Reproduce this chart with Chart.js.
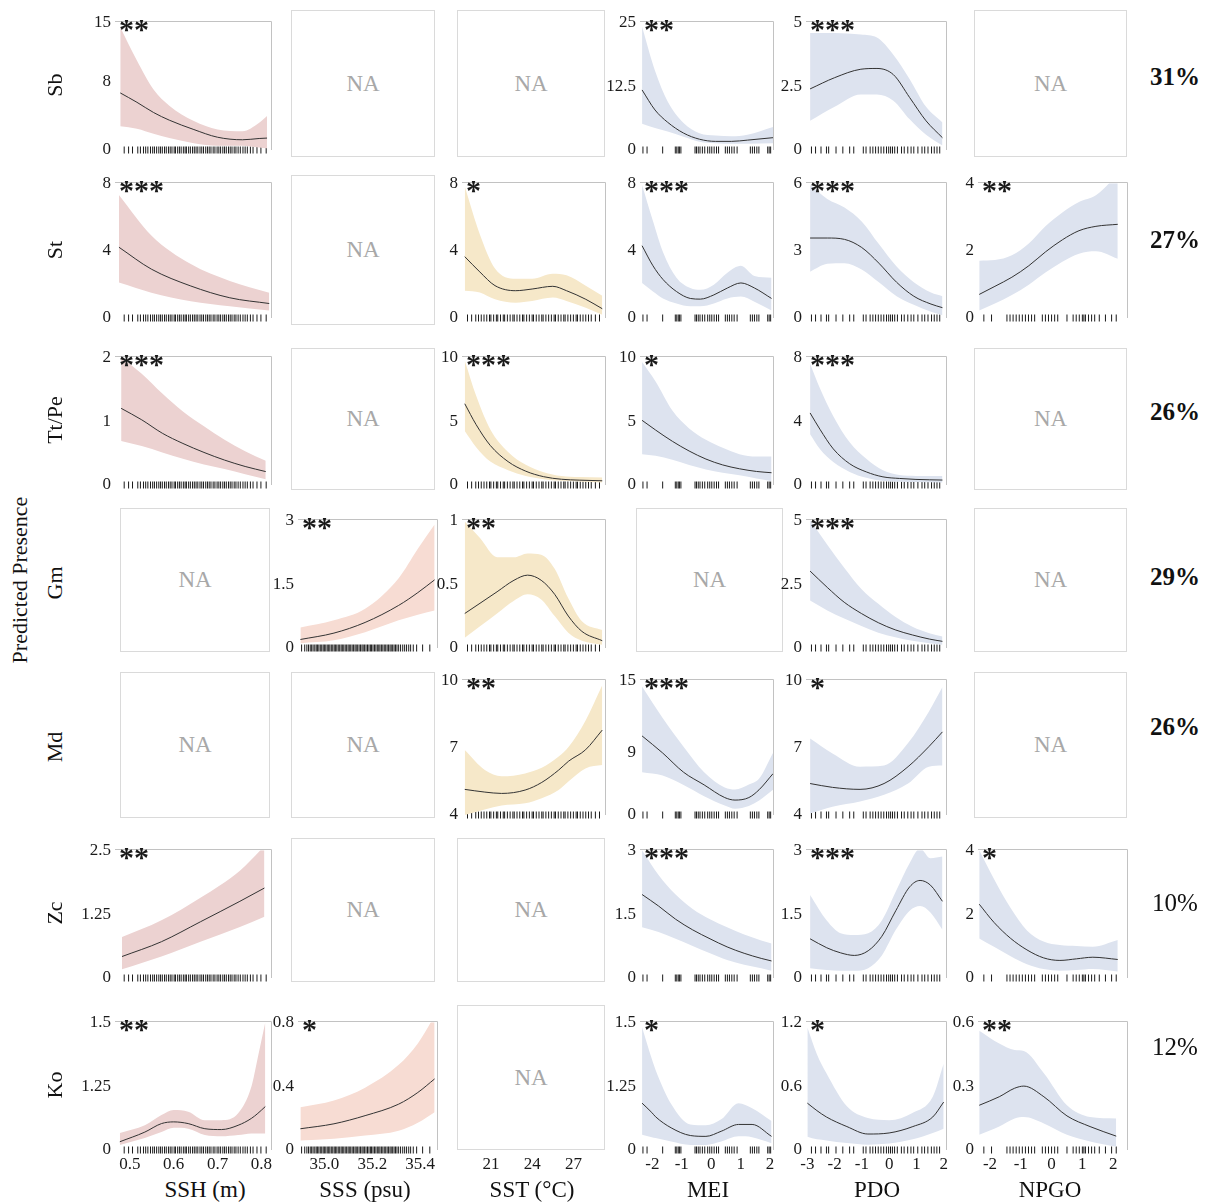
<!DOCTYPE html>
<html>
<head>
<meta charset="utf-8">
<script src="https://cdn.jsdelivr.net/npm/chart.js@4.4.0/dist/chart.umd.min.js"></script>
<style>
  body { margin: 0; background: #fff; }
  #fig { position: relative; width: 1213px; height: 1203px; font-family: 'Liberation Serif', 'Times New Roman', serif; color: #111; overflow: hidden; }
  .abs { position: absolute; }
  .na { position: absolute; box-sizing: border-box; border: 1.5px solid #dadada; display: flex; align-items: center; justify-content: center; color: #a8a8a8; font-size: 23px; }
  .stars { position: absolute; font-size: 30px; line-height: 30px; font-weight: bold; white-space: nowrap; color: #1a1a1a; }
  .rot { position: absolute; transform: translate(-50%, -50%) rotate(-90deg); white-space: nowrap; font-size: 22px; }
  .pct { position: absolute; transform: translate(-50%, -50%); font-size: 25px; }
  .xt { position: absolute; transform: translateX(-50%); font-size: 23px; white-space: nowrap; }
</style>
</head>
<body>
<div id="fig"></div>
<script>
// ===== Datos =====
const species = ['Sb', 'St', 'Tt/Pe', 'Gm', 'Md', 'Zc', 'Ko'];
const devExplained = ['31%', '27%', '26%', '29%', '26%', '10%', '12%'];
const pctBold = [true, true, true, true, true, false, false];
const covariates = ['SSH (m)', 'SSS (psu)', 'SST (°C)', 'MEI', 'PDO', 'NPGO'];

const xRange = [[0.466, 0.822], [34.89, 35.47], [18.9, 29.3], [-2.42, 2.1], [-3.05, 2.08], [-2.39, 2.45]];
const xTicks = [[0.5, 0.6, 0.7, 0.8], [35.0, 35.2, 35.4], [21, 24, 27], [-2, -1, 0, 1, 2], [-3, -2, -1, 0, 1, 2], [-2, -1, 0, 1, 2]];
const xTickLabels = [['0.5', '0.6', '0.7', '0.8'], ['35.0', '35.2', '35.4'], ['21', '24', '27'],
  ['-2', '-1', '0', '1', '2'], ['-3', '-2', '-1', '0', '1', '2'], ['-2', '-1', '0', '1', '2']];

// rug (observaciones) por covariable
const rugSSH = [0.487, 0.497, 0.506, 0.518, 0.524, 0.531, 0.536, 0.541, 0.547, 0.552, 0.556, 0.561, 0.566, 0.57, 0.574,
  0.579, 0.583, 0.588, 0.592, 0.596, 0.601, 0.604, 0.609, 0.613, 0.617, 0.622, 0.626, 0.629, 0.634, 0.638, 0.643, 0.647,
  0.651, 0.655, 0.66, 0.664, 0.668, 0.673, 0.677, 0.681, 0.685, 0.69, 0.694, 0.699, 0.703, 0.707, 0.712, 0.716, 0.72,
  0.725, 0.729, 0.733, 0.738, 0.742, 0.747, 0.752, 0.758, 0.763, 0.768, 0.775, 0.781, 0.79, 0.799, 0.811];
const rugSSS = [34.905, 34.918, 34.927, 34.934, 34.941, 34.947, 34.953, 34.96, 34.966, 34.971, 34.977, 34.983, 34.989,
  34.995, 35.0, 35.006, 35.012, 35.018, 35.023, 35.029, 35.035, 35.041, 35.046, 35.052, 35.058, 35.064, 35.07, 35.075,
  35.081, 35.087, 35.093, 35.099, 35.104, 35.11, 35.116, 35.122, 35.128, 35.133, 35.139, 35.145, 35.151, 35.157, 35.162,
  35.168, 35.174, 35.18, 35.186, 35.192, 35.197, 35.203, 35.209, 35.215, 35.221, 35.227, 35.232, 35.238, 35.244, 35.25,
  35.256, 35.262, 35.268, 35.274, 35.279, 35.285, 35.291, 35.297, 35.303, 35.31, 35.318, 35.327, 35.335, 35.343, 35.352,
  35.36, 35.371, 35.385, 35.41, 35.44];
const rugSST = [19.3, 19.6, 19.9, 20.1, 20.3, 20.5, 20.7, 20.9, 21.0, 21.2, 21.4, 21.5, 21.7, 21.9, 22.0, 22.2, 22.4, 22.6,
  22.7, 22.9, 23.1, 23.3, 23.4, 23.6, 23.8, 24.0, 24.1, 24.3, 24.5, 24.7, 24.8, 25.0, 25.2, 25.4, 25.6, 25.7, 25.9, 26.1,
  26.3, 26.4, 26.6, 26.8, 27.0, 27.2, 27.3, 27.5, 27.7, 27.9, 28.1, 28.3, 28.6, 28.9];
const rugMEI = [-2.32, -2.18, -1.65, -1.22, -1.17, -1.12, -1.08, -1.03, -0.55, -0.5, -0.44, -0.38, -0.3, -0.22, -0.12,
  -0.05, 0.02, 0.1, 0.18, 0.25, 0.48, 0.55, 0.62, 0.7, 0.78, 0.88, 1.33, 1.4, 1.47, 1.55, 1.62, 1.92, 1.97, 2.02];
const rugPDO = [-2.85, -2.7, -2.5, -2.3, -2.22, -1.95, -1.7, -1.45, -1.3, -0.95, -0.85, -0.7, -0.6, -0.5, -0.4, -0.3,
  -0.2, -0.1, -0.02, 0.05, 0.12, 0.2, 0.3, 0.45, 0.55, 0.68, 0.8, 0.9, 1.05, 1.2, 1.3, 1.42, 1.55, 1.65, 1.75, 1.85];
const rugNPGO = [-2.2, -1.95, -1.45, -1.35, -1.25, -1.15, -1.05, -0.95, -0.85, -0.75, -0.65, -0.55, -0.3, -0.2, -0.1,
  0.0, 0.1, 0.2, 0.5, 0.7, 0.8, 0.9, 1.0, 1.05, 1.1, 1.2, 1.3, 1.4, 1.55, 1.75, 1.95, 2.1];
const rugs = [rugSSH, rugSSS, rugSST, rugMEI, rugPDO, rugNPGO];

// curvas: [x, ajuste, inferior, superior]
const sbSsh = [[0.478, 6.7, 2.8, 14.4], [0.516, 5.6, 2.5, 10.5], [0.554, 4.4, 1.9, 7.1], [0.59, 3.5, 1.4, 5.2],
  [0.646, 2.4, 0.8, 3.4], [0.70, 1.5, 0.5, 2.4], [0.757, 1.2, 0.5, 2.2], [0.795, 1.35, 0.3, 3.2], [0.813, 1.4, 0.2, 4.0]];
const sbMei = [[-2.35, 11.75, 5.12, 24.1], [-1.91, 7.83, 4.3, 15.5], [-1.48, 5.42, 3.61, 9.5], [-0.94, 3.31, 2.6, 5.3],
  [-0.4, 2.11, 1.6, 3.3], [0.15, 1.69, 1.3, 2.85], [0.69, 1.69, 1.2, 2.71], [1.23, 1.93, 1.2, 3.0], [2.1, 2.41, 1.3, 4.52]];
const sbPdo = [[-2.9, 2.39, 1.14, 4.58], [-2.0, 2.83, 1.69, 4.58], [-1.04, 3.16, 2.17, 4.52], [-0.45, 3.19, 2.17, 4.4],
  [0.15, 2.95, 1.93, 3.73], [0.75, 2.05, 1.2, 2.77], [1.35, 1.14, 0.6, 1.69], [1.95, 0.48, 0.18, 1.08]];

const stSsh = [[0.475, 4.2, 2.1, 7.3], [0.549, 2.9, 1.5, 4.9], [0.639, 1.9, 1.0, 3.2], [0.728, 1.2, 0.7, 2.2], [0.818, 0.86, 0.45, 1.5]];
const stSst = [[19.1, 3.64, 1.62, 7.8], [20.2, 2.73, 1.52, 4.96], [21.3, 1.92, 1.11, 2.94], [22.8, 1.62, 0.91, 2.33],
  [24.0, 1.72, 1.01, 2.33], [25.5, 1.88, 1.21, 2.63], [26.5, 1.62, 1.01, 2.53], [27.9, 1.11, 0.61, 1.92], [29.1, 0.55, 0.2, 1.32]];
const stMei = [[-2.35, 4.29, 2.08, 7.9], [-1.98, 3.1, 1.57, 5.76], [-1.64, 2.29, 1.16, 3.92], [-1.18, 1.57, 0.86, 2.39],
  [-0.71, 1.16, 0.69, 1.78], [-0.37, 1.12, 0.69, 1.67], [0.09, 1.37, 0.86, 1.98], [0.55, 1.78, 1.16, 2.69],
  [1.01, 2.08, 1.27, 3.1], [1.47, 1.78, 0.96, 2.49], [2.05, 1.16, 0.45, 2.39]];
const stPdo = [[-2.9, 3.56, 2.06, 5.92], [-2.27, 3.56, 2.41, 5.3], [-1.64, 3.5, 2.44, 4.92], [-1.01, 3.14, 2.16, 4.3],
  [-0.38, 2.44, 1.59, 3.29], [0.27, 1.59, 0.97, 2.29], [0.9, 0.97, 0.59, 1.59], [1.53, 0.62, 0.28, 1.13], [1.95, 0.46, 0.12, 0.97]];
const stNpgo = [[-2.35, 0.7, 0.22, 1.7], [-1.84, 0.94, 0.43, 1.72], [-1.29, 1.21, 0.68, 1.86], [-0.74, 1.55, 0.99, 2.21],
  [-0.2, 1.96, 1.35, 2.72], [0.35, 2.32, 1.67, 3.13], [0.89, 2.59, 1.91, 3.44], [1.44, 2.72, 1.98, 3.64], [2.15, 2.78, 1.76, 4.26]];

const ttSsh = [[0.48, 1.2, 0.69, 2.0], [0.527, 1.02, 0.61, 1.74], [0.574, 0.81, 0.51, 1.43], [0.621, 0.65, 0.41, 1.15],
  [0.669, 0.51, 0.32, 0.92], [0.716, 0.39, 0.25, 0.71], [0.763, 0.29, 0.17, 0.53], [0.81, 0.21, 0.09, 0.38]];
const ttSst = [[19.1, 6.36, 4.22, 9.75], [19.93, 4.72, 2.96, 6.98], [20.96, 3.09, 1.83, 4.35], [22.25, 1.83, 1.16, 2.59],
  [23.54, 1.08, 0.7, 1.58], [24.84, 0.65, 0.45, 1.0], [26.13, 0.45, 0.33, 0.7], [27.42, 0.38, 0.28, 0.62], [29.1, 0.33, 0.2, 0.58]];
const ttMei = [[-2.35, 5.06, 2.41, 9.62], [-1.89, 4.3, 2.28, 8.1], [-1.32, 3.42, 1.97, 5.82], [-0.75, 2.66, 1.57, 4.43],
  [-0.18, 2.03, 1.22, 3.54], [0.39, 1.57, 0.96, 2.91], [0.96, 1.27, 0.76, 2.41], [1.54, 1.06, 0.51, 2.23], [2.05, 0.96, 0.3, 2.23]];
const ttPdo = [[-2.9, 4.51, 3.18, 7.59], [-2.54, 3.49, 2.26, 6.05], [-2.05, 2.26, 1.44, 4.31], [-1.45, 1.33, 0.82, 2.67],
  [-0.84, 0.82, 0.45, 1.64], [-0.23, 0.51, 0.25, 0.92], [0.37, 0.41, 0.2, 0.62], [0.98, 0.35, 0.18, 0.57], [1.95, 0.31, 0.16, 0.57]];

const gmSss = [[34.9, 0.2, 0.11, 0.48], [35.04, 0.35, 0.18, 0.65], [35.17, 0.6, 0.37, 0.92], [35.31, 1.0, 0.65, 1.64],
  [35.39, 1.3, 0.78, 2.33], [35.46, 1.6, 0.88, 2.9]];
const gmSst = [[19.1, 0.27, 0.08, 0.99], [20.21, 0.35, 0.17, 0.86], [21.45, 0.44, 0.27, 0.71], [22.68, 0.53, 0.37, 0.71],
  [23.67, 0.57, 0.42, 0.74], [24.66, 0.53, 0.38, 0.73], [25.64, 0.42, 0.25, 0.62], [26.63, 0.25, 0.12, 0.39],
  [27.62, 0.13, 0.057, 0.21], [29.1, 0.057, 0.026, 0.14]];
const gmPdo = [[-2.9, 3.01, 1.86, 5.0], [-2.27, 2.37, 1.47, 4.04], [-1.65, 1.79, 1.15, 3.14], [-1.02, 1.35, 0.86, 2.31],
  [-0.4, 0.99, 0.6, 1.73], [0.22, 0.71, 0.42, 1.22], [0.85, 0.51, 0.28, 0.83], [1.47, 0.35, 0.19, 0.58], [1.95, 0.26, 0.13, 0.45]];

const mdSst = [[19.1, 5.14, 4.0, 6.89], [20.56, 5.02, 4.25, 6.0], [21.78, 4.96, 4.42, 5.72], [23.49, 5.11, 4.52, 5.85],
  [24.7, 5.45, 4.75, 6.1], [25.93, 6.0, 5.11, 6.6], [26.66, 6.4, 5.5, 7.04], [27.88, 6.9, 6.07, 8.2], [29.1, 7.78, 6.22, 9.78]];
const mdMei = [[-2.35, 8.8, 4.76, 14.3], [-1.65, 6.9, 4.4, 10.8], [-0.94, 4.76, 3.35, 7.6], [-0.24, 3.35, 2.1, 4.76],
  [0.46, 1.94, 1.06, 3.07], [0.81, 1.66, 0.7, 2.85], [1.28, 1.94, 1.0, 3.4], [1.63, 2.82, 1.6, 4.06], [2.1, 4.6, 2.8, 6.9]];
const mdPdo = [[-2.9, 5.4, 4.07, 7.4], [-2.08, 5.23, 4.37, 6.74], [-1.07, 5.14, 4.6, 6.15], [-0.19, 5.4, 4.9, 6.2],
  [0.69, 6.15, 5.4, 7.2], [1.45, 7.04, 6.15, 8.6], [1.95, 7.7, 6.2, 9.7]];

const zcSsh = [[0.482, 0.42, 0.17, 0.8], [0.572, 0.71, 0.42, 1.13], [0.661, 1.1, 0.71, 1.57], [0.751, 1.5, 1.0, 2.1], [0.807, 1.76, 1.2, 2.58]];
const zcMei = [[-2.35, 1.96, 1.19, 3.0], [-1.79, 1.69, 1.08, 2.42], [-1.21, 1.38, 0.92, 1.96], [-0.63, 1.13, 0.75, 1.62],
  [-0.04, 0.92, 0.58, 1.38], [0.54, 0.73, 0.42, 1.19], [1.12, 0.58, 0.31, 1.02], [1.7, 0.46, 0.23, 0.88], [2.05, 0.4, 0.17, 0.81]];
const zcPdo = [[-2.9, 0.92, 0.23, 1.95], [-2.29, 0.71, 0.19, 1.35], [-1.78, 0.59, 0.17, 1.05], [-1.28, 0.53, 0.17, 1.01],
  [-0.77, 0.64, 0.23, 1.05], [-0.27, 0.98, 0.53, 1.35], [0.24, 1.58, 1.13, 2.03], [0.75, 2.14, 1.58, 2.7],
  [1.13, 2.29, 1.69, 3.04], [1.51, 2.18, 1.54, 2.81], [1.95, 1.8, 1.13, 2.85]];
const zcNpgo = [[-2.35, 2.31, 1.24, 4.0], [-1.87, 1.74, 0.98, 3.1], [-1.33, 1.24, 0.68, 2.19], [-0.8, 0.88, 0.43, 1.49],
  [-0.26, 0.63, 0.28, 1.14], [0.27, 0.55, 0.23, 1.03], [0.81, 0.6, 0.25, 1.0], [1.34, 0.65, 0.28, 0.98], [2.15, 0.58, 0.2, 1.19]];

const koSsh = [[0.477, 0.097, 0.06, 0.2], [0.534, 0.21, 0.14, 0.29], [0.572, 0.31, 0.21, 0.41], [0.6, 0.33, 0.26, 0.47],
  [0.633, 0.31, 0.25, 0.45], [0.671, 0.25, 0.175, 0.35], [0.709, 0.24, 0.16, 0.35], [0.747, 0.29, 0.175, 0.43],
  [0.777, 0.37, 0.195, 0.74], [0.792, 0.43, 0.195, 1.09], [0.809, 0.51, 0.195, 1.5]];
const koSss = [[34.9, 0.133, 0.06, 0.267], [35.04, 0.164, 0.07, 0.31], [35.17, 0.215, 0.09, 0.39], [35.31, 0.287, 0.12, 0.533],
  [35.39, 0.36, 0.17, 0.667], [35.46, 0.445, 0.236, 0.84]];
const koMei = [[-2.35, 0.55, 0.18, 1.44], [-2.02, 0.44, 0.15, 1.07], [-1.89, 0.39, 0.14, 0.94], [-1.36, 0.26, 0.1, 0.54],
  [-0.71, 0.17, 0.06, 0.3], [-0.18, 0.16, 0.06, 0.29], [0.34, 0.22, 0.1, 0.36], [0.93, 0.3, 0.16, 0.55],
  [1.39, 0.3, 0.15, 0.49], [2.05, 0.16, 0.08, 0.34]];
const koPdo = [[-3.0, 0.44, 0.125, 1.15], [-2.65, 0.37, 0.1, 0.9], [-2.3, 0.31, 0.09, 0.72], [-1.55, 0.22, 0.065, 0.41],
  [-0.78, 0.15, 0.05, 0.3], [0.0, 0.16, 0.06, 0.28], [0.87, 0.22, 0.1, 0.35], [1.6, 0.31, 0.16, 0.5], [2.0, 0.45, 0.2, 0.81]];
const koNpgo = [[-2.35, 0.21, 0.072, 0.56], [-1.7, 0.25, 0.11, 0.5], [-1.2, 0.29, 0.148, 0.47], [-0.9, 0.3, 0.155, 0.465],
  [-0.25, 0.25, 0.125, 0.36], [0.5, 0.16, 0.072, 0.21], [1.25, 0.11, 0.04, 0.155], [2.1, 0.065, 0.015, 0.148]];

// paneles: [fila, columna, curva, posiciones eje y, etiquetas eje y (null = valor), significancia]
const panels = [
  [0, 0, sbSsh, [0, 8, 15], null, '**'],
  [0, 3, sbMei, [0, 12.5, 25], null, '**'],
  [0, 4, sbPdo, [0, 2.5, 5], null, '***'],
  [1, 0, stSsh, [0, 4, 8], null, '***'],
  [1, 2, stSst, [0, 4, 8], null, '*'],
  [1, 3, stMei, [0, 4, 8], null, '***'],
  [1, 4, stPdo, [0, 3, 6], null, '***'],
  [1, 5, stNpgo, [0, 2, 4], null, '**'],
  [2, 0, ttSsh, [0, 1, 2], null, '***'],
  [2, 2, ttSst, [0, 5, 10], null, '***'],
  [2, 3, ttMei, [0, 5, 10], null, '*'],
  [2, 4, ttPdo, [0, 4, 8], null, '***'],
  [3, 1, gmSss, [0, 1.5, 3], null, '**'],
  [3, 2, gmSst, [0, 0.5, 1], null, '**'],
  [3, 4, gmPdo, [0, 2.5, 5], null, '***'],
  [4, 2, mdSst, [4, 7, 10], null, '**'],
  [4, 3, mdMei, [0, 6.9, 15], ['0', '9', '15'], '***'],
  [4, 4, mdPdo, [4, 7, 10], null, '*'],
  [5, 0, zcSsh, [0, 1.25, 2.5], null, '**'],
  [5, 3, zcMei, [0, 1.5, 3], null, '***'],
  [5, 4, zcPdo, [0, 1.5, 3], null, '***'],
  [5, 5, zcNpgo, [0, 2, 4], null, '*'],
  [6, 0, koSsh, [0, 0.75, 1.5], ['0', '1.25', '1.5'], '**'],
  [6, 1, koSss, [0, 0.4, 0.8], null, '*'],
  [6, 3, koMei, [0, 0.75, 1.5], ['0', '1.25', '1.5'], '*'],
  [6, 4, koPdo, [0, 0.6, 1.2], null, '*'],
  [6, 5, koNpgo, [0, 0.3, 0.6], null, '**']
];
const naCells = [[0, 1], [0, 2], [0, 5], [1, 1], [2, 1], [2, 5], [3, 0], [3, 3], [3, 5], [4, 0], [4, 1], [4, 5], [5, 1], [5, 2], [6, 2]];

// ===== Maquetación =====
const colPlot = [[115, 271], [298, 437], [462, 605], [640, 773], [806, 946], [978, 1127]];
const rowPlot = [[20, 150], [181, 318], [355, 485], [518, 648], [678, 815], [848, 978], [1020, 1150]];
const naCol = [[120, 270], [291, 435], [457, 605], [636, 783], [806, 946], [974, 1127]];
const naRow = [[10, 157], [175, 325], [348, 490], [508, 652], [672, 818], [838, 982], [1005, 1150]];
const bandColors = ['#ecd2d1', '#f7dcd3', '#f6e8c9', '#dde3ef', '#dde3ef', '#dde3ef'];
const pctY = [77, 240, 412, 577, 727, 903, 1047];
const titleX = [205, 365, 532, 708, 877, 1050];

const fig = document.getElementById('fig');
Chart.defaults.font.family = "'Liberation Serif', 'Times New Roman', serif";
Chart.defaults.color = '#1a1a1a';

const framePlugin = {
  id: 'frame',
  afterDraw(chart, args, opts) {
    if (!opts.show) return;
    const { ctx, chartArea: a } = chart;
    ctx.save();
    ctx.strokeStyle = '#c2c2c2';
    ctx.lineWidth = 1;
    ctx.beginPath();
    ctx.moveTo(a.left, Math.round(a.top) - 0.5);
    ctx.lineTo(Math.round(a.right) + 0.5, Math.round(a.top) - 0.5);
    ctx.lineTo(Math.round(a.right) + 0.5, a.bottom);
    ctx.stroke();
    ctx.restore();
  }
};

function addDiv(cls, text, style) {
  const d = document.createElement('div');
  d.className = cls;
  d.textContent = text;
  Object.assign(d.style, style);
  fig.appendChild(d);
  return d;
}

function makePanel(r, c, rows, yTicks, yLabels, stars) {
  const [pl, pr] = colPlot[c];
  const [pt, pb] = rowPlot[r];
  const last = r === species.length - 1;
  const padL = 38, padT = 12, padR = 6, padB = last ? 26 : 16;

  const canvas = document.createElement('canvas');
  canvas.width = pr - pl + padL + padR;
  canvas.height = pb - pt + padT + padB;
  canvas.className = 'abs';
  canvas.style.left = (pl - padL) + 'px';
  canvas.style.top = (pt - padT) + 'px';
  fig.appendChild(canvas);

  // orden: Chart.js pinta del último al primero, así la curva queda encima de la banda
  const datasets = [];
  if (rows) {
    const curve = { pointRadius: 0, cubicInterpolationMode: 'monotone', clip: false };
    datasets.push({ ...curve, data: rows.map(d => ({ x: d[0], y: d[1] })), borderColor: '#333', borderWidth: 1, fill: false });
    datasets.push({ ...curve, data: rows.map(d => ({ x: d[0], y: d[2] })), borderWidth: 0, fill: false });
    datasets.push({ ...curve, data: rows.map(d => ({ x: d[0], y: d[3] })), borderWidth: 0, backgroundColor: bandColors[c], fill: '-1' });
    datasets.push({
      type: 'scatter', data: rugs[c].map(v => ({ x: v, y: yTicks[0] })),
      pointStyle: 'line', pointRotation: 90, pointRadius: 3.5,
      pointBorderColor: '#1a1a1a', pointBorderWidth: 1, clip: false
    });
  }
  const yMin = yTicks.length ? yTicks[0] : 0;
  const yMax = yTicks.length ? yTicks[yTicks.length - 1] : 1;

  new Chart(canvas, {
    type: 'line',
    data: { datasets },
    options: {
      responsive: false,
      animation: false,
      events: [],
      layout: { padding: { top: padT, right: padR, bottom: last ? 0 : padB, left: 0 } },
      plugins: { legend: { display: false }, tooltip: { enabled: false }, frame: { show: !!rows } },
      scales: {
        x: {
          type: 'linear', min: xRange[c][0], max: xRange[c][1],
          display: last,
          grid: { display: false, drawTicks: false }, border: { display: false },
          afterBuildTicks: s => { s.ticks = xTicks[c].map(v => ({ value: v })); },
          afterFit: s => { s.height = last ? padB : 0; },
          ticks: {
            autoSkip: false, maxRotation: 0, padding: 4,
            font: { size: 17 }, color: '#1a1a1a',
            callback: (v, i) => xTickLabels[c][i]
          }
        },
        y: {
          type: 'linear', min: yMin, max: yMax,
          grid: { display: false, drawTicks: false }, border: { display: false },
          afterBuildTicks: s => { s.ticks = yTicks.map(v => ({ value: v })); },
          afterFit: s => { s.width = padL; },
          ticks: {
            display: yTicks.length > 0, padding: 4,
            font: { size: 17 }, color: '#1a1a1a',
            callback: (v, i) => (yLabels ? yLabels[i] : String(yTicks[i]))
          }
        }
      }
    },
    plugins: [framePlugin]
  });

  if (stars) addDiv('stars', stars, { left: (pl + 4) + 'px', top: (pt - 6) + 'px' });
}

// paneles NA
naCells.forEach(([r, c]) => {
  const [l, rr] = naCol[c];
  const [t, b] = naRow[r];
  addDiv('na', 'NA', { left: l + 'px', top: t + 'px', width: (rr - l) + 'px', height: (b - t) + 'px' });
});

panels.forEach(p => makePanel(...p));
// eje x de la columna SST en la última fila (panel NA)
makePanel(6, 2, null, [], null, '');

// etiquetas
species.forEach((s, r) => {
  addDiv('rot', s, { left: '55px', top: ((rowPlot[r][0] + rowPlot[r][1]) / 2) + 'px' });
  addDiv('pct', devExplained[r], { left: '1175px', top: pctY[r] + 'px', fontWeight: pctBold[r] ? 'bold' : 'normal' });
});
addDiv('rot', 'Predicted Presence', { left: '20px', top: '580px' });
covariates.forEach((t, c) => addDiv('xt', t, { left: titleX[c] + 'px', top: '1177px' }));
</script>
</body>
</html>
